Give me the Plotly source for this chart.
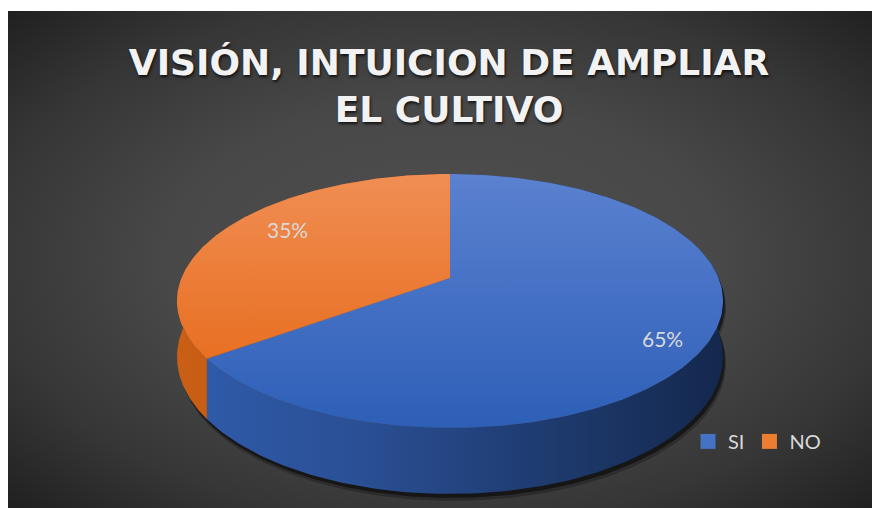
import numpy as np
import plotly.graph_objects as go

# ---------------- data ----------------
categories = ["SI", "NO"]
values = [65, 35]
title_text = "VISIÓN, INTUICION DE AMPLIAR<br>EL CULTIVO"

# ---------------- style ----------------
TOP_SCALES = {
    "SI": [[0, "#5b81d0"], [1, "#2d5fb7"]],
    "NO": [[0, "#f08e54"], [1, "#e5640f"]],
}
SIDE_SCALES = {
    "SI": [[0, "#2f5aa8"], [0.3, "#2a4f94"], [0.6, "#203e75"], [1, "#14284d"]],
    "NO": [[0, "#c95e15"], [1, "#bf560f"]],
}
LEGEND_COLORS = {"SI": "#4472c4", "NO": "#ed7d31"}
LABEL_NUDGE = {"SI": (13, 14), "NO": (13, -8)}

# pie projection (pixel space of the page)
CX, CY = 450.0, 278.0
RX, RY = 268.5, 122.8
PERSP = 0.181
DEPTH = 54.0
LABEL_R = 0.78

X0, X1 = 8, 880
Y0, Y1 = 11, 508


def project(theta_deg, r=1.0):
    th = np.radians(theta_deg)
    u = r * np.sin(th)
    v = -r * np.cos(th)
    w = 1 - PERSP * v
    return CX + RX * u / w, CY + RY * v / w, w


fig = go.Figure()

# background (radial gradient)
bcx, bcy = (X0 + X1) / 2, (Y0 + Y1) / 2
hx, hy = (X1 - X0) / 2 * 1.414, (Y1 - Y0) / 2 * 1.414
fig.add_trace(go.Scatter(
    x=[bcx - hx, bcx + hx, bcx + hx, bcx - hx, bcx - hx],
    y=[bcy - hy, bcy - hy, bcy + hy, bcy + hy, bcy - hy],
    mode="lines", line=dict(width=0), fill="toself",
    fillgradient=dict(type="radial",
                      colorscale=[[0, "#4f4f4f"], [0.45, "#484848"],
                                  [0.75, "#363636"], [1, "#202020"]]),
    hoverinfo="skip", showlegend=False))

total = sum(values)
spans = [360.0 * v / total for v in values]
starts = np.concatenate([[0.0], np.cumsum(spans)[:-1]])

# shadow under the pie
for dx, dy, op in [(3, 7, 0.25), (2, 4, 0.5)]:
    th = np.linspace(0, 360, 361)
    xt, yt, wt = project(th)
    xs = np.concatenate([xt, xt[::-1]]) + dx
    ys = np.concatenate([yt, (yt + DEPTH / wt)[::-1]]) + dy
    fig.add_trace(go.Scatter(x=xs, y=ys, mode="lines", line=dict(width=0),
                             fill="toself", fillcolor=f"rgba(0,0,0,{op})",
                             hoverinfo="skip", showlegend=False))

# sides
for cat, a, s in zip(categories, starts, spans):
    th = np.linspace(a, a + s, 200)
    xt, yt, wt = project(th)
    xs = np.concatenate([xt, xt[::-1]])
    ys = np.concatenate([yt, (yt + DEPTH / wt)[::-1]])
    fig.add_trace(go.Scatter(
        x=xs, y=ys, mode="lines", line=dict(width=0), fill="toself",
        fillgradient=dict(type="horizontal", colorscale=SIDE_SCALES[cat]),
        hoverinfo="skip", showlegend=False))

# tops
y_top = CY - RY / (1 + PERSP)
y_bot = CY + RY / (1 - PERSP)
for cat, a, s in zip(categories, starts, spans):
    th = np.linspace(a, a + s, 200)
    xt, yt, _ = project(th)
    xs = np.concatenate([[CX], xt, [CX]])
    ys = np.concatenate([[CY], yt, [CY]])
    fig.add_trace(go.Scatter(
        x=xs, y=ys, mode="lines", line=dict(width=0), fill="toself",
        fillgradient=dict(type="vertical", colorscale=TOP_SCALES[cat],
                          start=y_top, stop=y_bot),
        hoverinfo="skip", showlegend=False))

# data labels
for cat, v, a, s in zip(categories, values, starts, spans):
    lx, ly, _ = project(a + s / 2, LABEL_R)
    ndx, ndy = LABEL_NUDGE[cat]
    fig.add_annotation(x=float(lx) + ndx, y=float(ly) + ndy, xref="x", yref="y",
                       text=f"{round(100 * v / total)}%", showarrow=False,
                       font=dict(family="Lato", size=21, color="#d9d9d9"))

# legend entries
for cat in categories:
    fig.add_trace(go.Scatter(x=[None], y=[None], mode="markers", name=cat,
                             marker=dict(symbol="square", size=15,
                                         color=LEGEND_COLORS[cat])))

fig.update_layout(
    width=872, height=500,
    margin=dict(l=0, r=0, t=3, b=0),
    paper_bgcolor="white", plot_bgcolor="rgba(0,0,0,0)",
    xaxis=dict(range=[X0, X1], visible=False, fixedrange=True),
    yaxis=dict(range=[Y1, Y0], visible=False, fixedrange=True),
    title=dict(text=title_text, x=(449 - X0) / (X1 - X0), xanchor="center",
               yref="container", y=1 - 67 / 500, yanchor="top",
               font=dict(family="DejaVu Sans", size=36, color="#f2f2f2",
                         weight="bold", shadow="1px 2px 3px rgba(0,0,0,0.75)")),
    showlegend=True,
    legend=dict(orientation="h", x=(757 - X0) / (X1 - X0), xanchor="center",
                y=1 - (441 - 8) / 500, yanchor="middle",
                bgcolor="rgba(0,0,0,0)",
                font=dict(family="Lato", size=20, color="#d9d9d9")),
)

fig.write_html("out.html")
